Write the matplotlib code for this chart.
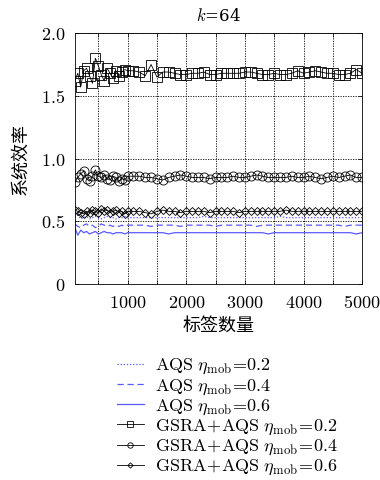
import matplotlib
matplotlib.use("Agg")
import matplotlib.pyplot as plt
from matplotlib.ticker import FixedLocator

plt.rcParams['mathtext.fontset'] = 'cm'
plt.rcParams['font.family'] = ['DejaVu Serif']

x_early = [100, 150, 200, 250, 300, 350, 400, 450, 500, 550, 600, 650, 700, 750, 800, 850, 900, 950, 1000]
x_late = [1100, 1200, 1300, 1400, 1500, 1600, 1700, 1800, 1900, 2000,
          2100, 2200, 2300, 2400, 2500, 2600, 2700, 2800, 2900, 3000,
          3100, 3200, 3300, 3400, 3500, 3600, 3700, 3800, 3900, 4000,
          4100, 4200, 4300, 4400, 4500, 4600, 4700, 4800, 4900, 5000]

sq = [1.62, 1.68, 1.57, 1.70, 1.72, 1.66, 1.60, 1.80, 1.74, 1.67, 1.62, 1.72, 1.68, 1.64, 1.70, 1.66, 1.69, 1.71, 1.70,
      1.70, 1.69, 1.66, 1.75, 1.65, 1.69, 1.69, 1.68, 1.67, 1.67,
      1.68, 1.68, 1.69, 1.67, 1.67, 1.68, 1.68, 1.68, 1.68, 1.69,
      1.69, 1.68, 1.67, 1.67, 1.68, 1.67, 1.67, 1.68, 1.70, 1.68,
      1.69, 1.70, 1.69, 1.68, 1.68, 1.67, 1.67, 1.68, 1.71, 1.68]
ci = [0.81, 0.85, 0.88, 0.90, 0.84, 0.82, 0.86, 0.91, 0.86, 0.85, 0.87, 0.84, 0.83, 0.86, 0.85, 0.82, 0.84, 0.83, 0.86,
      0.86, 0.86, 0.85, 0.85, 0.84, 0.83, 0.85, 0.86, 0.87, 0.86,
      0.85, 0.85, 0.85, 0.84, 0.85, 0.85, 0.85, 0.86, 0.85, 0.85,
      0.86, 0.87, 0.86, 0.85, 0.85, 0.85, 0.85, 0.86, 0.85, 0.85,
      0.86, 0.85, 0.84, 0.85, 0.86, 0.85, 0.86, 0.87, 0.85, 0.85]
di = [0.59, 0.58, 0.57, 0.56, 0.58, 0.57, 0.59, 0.58, 0.57, 0.60, 0.58, 0.59, 0.57, 0.58, 0.59, 0.57, 0.58, 0.56, 0.58,
      0.58, 0.58, 0.57, 0.56, 0.58, 0.59, 0.58, 0.58, 0.57, 0.58,
      0.58, 0.58, 0.58, 0.57, 0.58, 0.58, 0.58, 0.58, 0.57, 0.58,
      0.58, 0.58, 0.58, 0.58, 0.58, 0.58, 0.59, 0.58, 0.58, 0.58,
      0.58, 0.58, 0.58, 0.58, 0.58, 0.58, 0.58, 0.58, 0.58, 0.58]
aqs2 = [0.53, 0.55, 0.52, 0.53, 0.54, 0.52, 0.53, 0.54, 0.53, 0.52, 0.53, 0.54, 0.53, 0.53, 0.52, 0.53, 0.53, 0.54, 0.53,
        0.53, 0.53, 0.53, 0.53, 0.53, 0.53, 0.53, 0.53, 0.53, 0.53,
        0.53, 0.53, 0.54, 0.53, 0.53, 0.53, 0.53, 0.53, 0.53, 0.53,
        0.53, 0.53, 0.53, 0.53, 0.53, 0.54, 0.53, 0.53, 0.53, 0.53,
        0.53, 0.53, 0.53, 0.53, 0.53, 0.53, 0.53, 0.53, 0.53, 0.53]
aqs4 = [0.48, 0.46, 0.45, 0.47, 0.48, 0.46, 0.47, 0.45, 0.46, 0.48, 0.47, 0.46, 0.47, 0.46, 0.47, 0.46, 0.47, 0.46, 0.47,
        0.47, 0.47, 0.47, 0.46, 0.47, 0.47, 0.47, 0.47, 0.46, 0.47,
        0.47, 0.47, 0.47, 0.47, 0.46, 0.47, 0.47, 0.47, 0.47, 0.47,
        0.47, 0.46, 0.47, 0.47, 0.47, 0.47, 0.47, 0.47, 0.47, 0.47,
        0.47, 0.47, 0.47, 0.47, 0.47, 0.47, 0.46, 0.47, 0.47, 0.47]
aqs6 = [0.45, 0.39, 0.43, 0.41, 0.42, 0.40, 0.41, 0.42, 0.40, 0.41, 0.42, 0.41, 0.41, 0.40, 0.41, 0.41, 0.41, 0.40, 0.41,
        0.41, 0.41, 0.41, 0.41, 0.41, 0.41, 0.40, 0.41, 0.41, 0.41,
        0.41, 0.41, 0.41, 0.41, 0.41, 0.41, 0.41, 0.41, 0.41, 0.41,
        0.41, 0.41, 0.41, 0.40, 0.41, 0.41, 0.41, 0.41, 0.41, 0.41,
        0.41, 0.41, 0.41, 0.41, 0.41, 0.41, 0.41, 0.41, 0.40, 0.41]

x = x_early + x_late
labels = [r'$\mathrm{AQS}\ \eta_{\mathrm{mob}}\!=\!0.2$',
          r'$\mathrm{AQS}\ \eta_{\mathrm{mob}}\!=\!0.4$',
          r'$\mathrm{AQS}\ \eta_{\mathrm{mob}}\!=\!0.6$',
          r'$\mathrm{GSRA\!+\!AQS}\ \eta_{\mathrm{mob}}\!=\!0.2$',
          r'$\mathrm{GSRA\!+\!AQS}\ \eta_{\mathrm{mob}}\!=\!0.4$',
          r'$\mathrm{GSRA\!+\!AQS}\ \eta_{\mathrm{mob}}\!=\!0.6$']
xticks = [1000, 2000, 3000, 4000, 5000]
yticks = [0, 0.5, 1.0, 1.5, 2.0]
yticklabels = ['0', '0.5', '1.0', '1.5', '2.0']

fig = plt.figure(figsize=(3.8, 4.8), dpi=100)
ax = fig.add_axes([0.197, 0.408, 0.756, 0.523])

blue = '#5a5aff'
h = []
h += ax.plot(x, aqs2, ls=(0, (1, 1.5)), color=blue, lw=0.9, label=labels[0])
h += ax.plot(x, aqs4, ls=(0, (5, 3)), color=blue, lw=0.9, label=labels[1])
h += ax.plot(x, aqs6, ls='-', color=blue, lw=0.9, label=labels[2])
mk = dict(color='black', lw=0.6, mfc='none', mec='black', mew=0.6)
h += ax.plot(x, sq, marker='s', ms=7, label=labels[3], **mk)
h += ax.plot(x, ci, marker='o', ms=6.5, label=labels[4], **mk)
h += ax.plot(x, di, marker='D', ms=4.5, label=labels[5], **mk)

ax.set_xlim(100, 5000)
ax.set_ylim(0, 2.0)
ax.xaxis.set_major_locator(FixedLocator(xticks))
ax.xaxis.set_minor_locator(FixedLocator([500, 1500, 2500, 3500, 4500]))
ax.set_xticklabels([rf'${v}$' for v in xticks])
ax.set_yticks(yticks)
ax.set_yticklabels([rf'${v}$' for v in yticklabels])
ax.tick_params(which='both', direction='in', top=True, right=True, labelsize=13, length=3, width=0.5)
ax.tick_params(axis='x', pad=7)
ax.tick_params(axis='y', pad=7)
ax.grid(True, which='both', axis='x', ls=(0, (1.5, 1.5)), color='black', lw=0.6)
ax.yaxis.grid(True, ls=(0, (1.5, 1.5)), color='black', lw=0.6)
for s in ax.spines.values():
    s.set_linewidth(0.6)
ax.set_axisbelow(True)

ax.set_title(r'$k$=64', fontsize=12, pad=9)
ax.set_xlabel('标签数量', family=['Noto Sans CJK SC'], fontsize=13, labelpad=4)
ax.set_ylabel('系统效率', family=['Noto Sans CJK SC'], fontsize=13, labelpad=8)

fig.legend(handles=h, loc='upper left', bbox_to_anchor=(0.284, 0.277), frameon=False,
           fontsize=13, handlelength=1.5, handletextpad=0.6, labelspacing=0.0, borderpad=0,
           markerscale=0.6)

fig.savefig('out.png', dpi=100)
